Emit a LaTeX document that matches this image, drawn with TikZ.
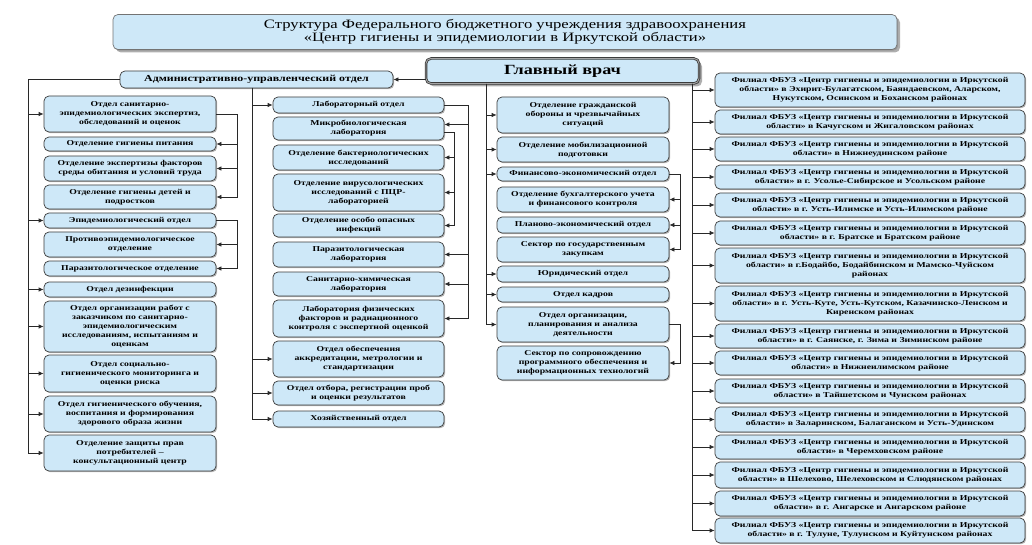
\documentclass[tikz,border=0pt]{standalone}
\usepackage{fontspec}
\setmainfont{Liberation Serif}[FakeStretch=1.3]
\usetikzlibrary{arrows.meta,shadows}
\definecolor{boxfill}{RGB}{206,232,248}
\definecolor{boxline}{RGB}{60,60,60}
\definecolor{conn}{RGB}{40,40,40}
\newcommand\bx[6]{%
  \pgfmathsetmacro\bxw{#4-#2}%
  \pgfmathsetmacro\bxh{#5-#3}%
  \node[unitbox,minimum width=\bxw pt,minimum height=\bxh pt] (#1) at ({(#2+#4)/2},{(#3+#5)/2}) {#6};}
\newcommand\fil[1]{Филиал ФБУЗ «Центр гигиены и эпидемиологии в Иркутской\\области» в #1}
\begin{document}
\begin{tikzpicture}[x=1pt,y=-1pt,
  unitbox/.style={draw=boxline,line width=0.7pt,fill=boxfill,rounded corners=5pt,
    align=center,inner sep=1pt,font=\fontsize{7.5}{9}\selectfont\bfseries,
    drop shadow={shadow xshift=1.2pt,shadow yshift=-1.2pt,fill=black!50,opacity=0.6}},
  titlebox/.style={unitbox,draw=black!55,font=\fontsize{12.8}{13}\selectfont,
    drop shadow={shadow xshift=3pt,shadow yshift=-3pt,fill=black!45,opacity=0.7}},
  chiefbox/.style={unitbox,draw=boxline,line width=0.8pt,double=black!35,double distance=0.9pt,
    font=\fontsize{14}{15}\selectfont\bfseries,
    drop shadow={shadow xshift=3pt,shadow yshift=-3pt,fill=black!45,opacity=0.7}},
  adminbox/.style={unitbox,font=\fontsize{9.2}{10}\selectfont\bfseries},
  arr/.style={draw=conn,line width=0.7pt,-{Latex[length=5pt,width=4.4pt]}},
  ln/.style={draw=conn,line width=0.7pt}]
\useasboundingbox (0,0) rectangle (1032,545);
% title and head
\node[titlebox,minimum width=784pt,minimum height=35pt] (title) at (505,32)
  {Структура Федерального бюджетного учреждения здравоохранения\\«Центр гигиены и эпидемиологии в Иркутской области»};
\node[chiefbox,minimum width=273pt,minimum height=25pt] (gv) at (562.5,71) {Главный врач};
\node[adminbox,minimum width=273pt,minimum height=17pt] (admin) at (256.5,79.5) {Административно-управленческий отдел};
% column 1
\bx{L1}{44}{96}{216}{132}{Отдел санитарно-\\эпидемиологических экспертиз,\\обследований и оценок}
\bx{L2}{44}{137}{216}{151}{Отделение гигиены питания}
\bx{L3}{44}{156}{216}{181}{Отделение экспертизы факторов\\среды обитания и условий труда}
\bx{L4}{44}{185}{216}{209}{Отделение гигиены детей и\\подростков}
\bx{L5}{44}{213}{216}{228}{Эпидемиологический отдел}
\bx{L6}{44}{232}{216}{257}{Противоэпидемиологическое\\отделение}
\bx{L7}{44}{261}{216}{276}{Паразитологическое отделение}
\bx{L8}{44}{282}{216}{297}{Отдел дезинфекции}
\bx{L9}{44}{301}{216}{352}{Отдел организации работ с\\заказчиком по санитарно-\\эпидемиологическим\\исследованиям, испытаниям и\\оценкам}
\bx{L10}{44}{355}{216}{392}{Отдел социально-\\гигиенического мониторинга и\\оценки риска}
\bx{L11}{44}{396}{216}{432}{Отдел гигиенического обучения,\\воспитания и формирования\\здорового образа жизни}
\bx{L12}{44}{435}{216}{471}{Отделение защиты прав\\потребителей –\\консультационный центр}
% column 2
\bx{M1}{273}{97}{444}{113}{Лабораторный отдел}
\bx{M2}{273}{117}{444}{140}{Микробиологическая\\лаборатория}
\bx{M3}{273}{145}{444}{170}{Отделение бактериологических\\исследований}
\bx{M4}{273}{174}{444}{211}{Отделение вирусологических\\исследований с ПЦР-\\лабораторией}
\bx{M5}{273}{214}{444}{237}{Отделение особо опасных\\инфекций}
\bx{M6}{273}{242}{444}{267}{Паразитологическая\\лаборатория}
\bx{M7}{273}{272}{444}{296}{Санитарно-химическая\\лаборатория}
\bx{M8}{273}{300}{444}{337}{Лаборатория физических\\факторов и радиационного\\контроля с экспертной оценкой}
\bx{M9}{273}{341}{444}{377}{Отдел обеспечения\\аккредитации, метрологии и\\стандартизации}
\bx{M10}{273}{381}{444}{405}{Отдел отбора, регистрации проб\\и оценки результатов}
\bx{M11}{273}{411}{444}{427}{Хозяйственный отдел}
% column 3
\bx{N1}{497}{97}{669}{133}{Отделение гражданской\\обороны и чрезвычайных\\ситуаций}
\bx{N2}{497}{137}{669}{162}{Отделение мобилизационной\\подготовки}
\bx{N3}{497}{167}{669}{181}{Финансово-экономический отдел}
\bx{N4}{497}{187}{669}{212}{Отделение бухгалтерского учета\\и финансового контроля}
\bx{N5}{497}{217}{669}{233}{Планово-экономический отдел}
\bx{N6}{497}{237}{669}{262}{Сектор по государственным\\закупкам}
\bx{N7}{497}{266}{669}{282}{Юридический отдел}
\bx{N8}{497}{287}{669}{302}{Отдел кадров}
\bx{N9}{497}{307}{669}{342}{Отдел организации,\\планирования и анализа\\деятельности}
\bx{N10}{497}{346}{669}{380}{Сектор по сопровождению\\программного обеспечения и\\информационных технологий}
% branches
\bx{F1}{715}{73}{1025}{107}{\fil{Эхирит-Булагатском, Баяндаевском, Аларском,\\Нукутском, Осинском и Боханском районах}}
\bx{F2}{715}{110}{1025}{134}{\fil{Качугском и Жигаловском районах}}
\bx{F3}{715}{137}{1025}{161}{\fil{Нижнеудинском районе}}
\bx{F4}{715}{165}{1025}{189}{\fil{г. Усолье-Сибирское и Усольском районе}}
\bx{F5}{715}{193}{1025}{217}{\fil{г. Усть-Илимске и Усть-Илимском районе}}
\bx{F6}{715}{221}{1025}{245}{\fil{г. Братске и Братском районе}}
\bx{F7}{715}{248}{1025}{283}{\fil{г.Бодайбо, Бодайбинском и Мамско-Чуйском\\районах}}
\bx{F8}{715}{286}{1025}{321}{\fil{г. Усть-Куте, Усть-Кутском, Казачинско-Ленском и\\Киренском районах}}
\bx{F9}{715}{324}{1025}{348}{\fil{г. Саянске, г. Зима и Зиминском районе}}
\bx{F10}{715}{351}{1025}{375}{\fil{Нижнеилимском районе}}
\bx{F11}{715}{379}{1025}{403}{\fil{Тайшетском и Чунском районах}}
\bx{F12}{715}{407}{1025}{432}{\fil{Заларинском, Балаганском и Усть-Удинском}}
\bx{F13}{715}{435}{1025}{459}{\fil{Черемховском районе}}
\bx{F14}{715}{462}{1025}{488}{\fil{Шелехово, Шелеховском и Слюдянском районах}}
\bx{F15}{715}{491}{1025}{516}{\fil{г. Ангарске и Ангарском районе}}
\bx{F16}{715}{518}{1025}{543}{\fil{г. Тулуне, Тулунском и Куйтунском районах}}
% trunk points
\coordinate (t1) at (28,79.5);
\coordinate (t2) at (252,88);
\coordinate (t3) at (486,84);
\coordinate (t4) at (692,84);
% connectors
\draw[arr] (gv.west |- admin.east) -- (admin.east);
\draw[ln] (admin.west) -- (t1);
\foreach \n in {L1,L5,L8,L9,L10,L11,L12} \draw[arr] (t1) |- (\n.west);
\foreach \n in {L2,L3,L4} \draw[arr] (L1.east) -- ++(21,0) |- (\n.east);
\foreach \n in {L6,L7} \draw[arr] (L5.east) -- ++(21,0) |- (\n.east);
\foreach \n in {M1,M9,M10,M11} \draw[arr] (t2) |- (\n.west);
\draw[arr] (M1.east) -- ++(24,0) |- ([yshift=4pt]M2.east);
\foreach \n in {M6,M7,M8} \draw[arr] (M1.east) -- ++(24,0) |- (\n.east);
\foreach \n in {M3,M4,M5} \draw[arr] ([yshift=-4pt]M2.east) -- ++(10,0) |- (\n.east);
\foreach \n in {N1,N2,N3,N7,N8,N9} \draw[arr] (t3) |- (\n.west);
\foreach \n in {N4,N5,N6} \draw[arr] (N3.east) -- ++(11,0) |- (\n.east);
\draw[arr] (N9.east) -- ++(11,0) |- (N10.east);
\foreach \i in {1,...,16} \draw[arr] (t4) |- (F\i.west);
\end{tikzpicture}
\end{document}
